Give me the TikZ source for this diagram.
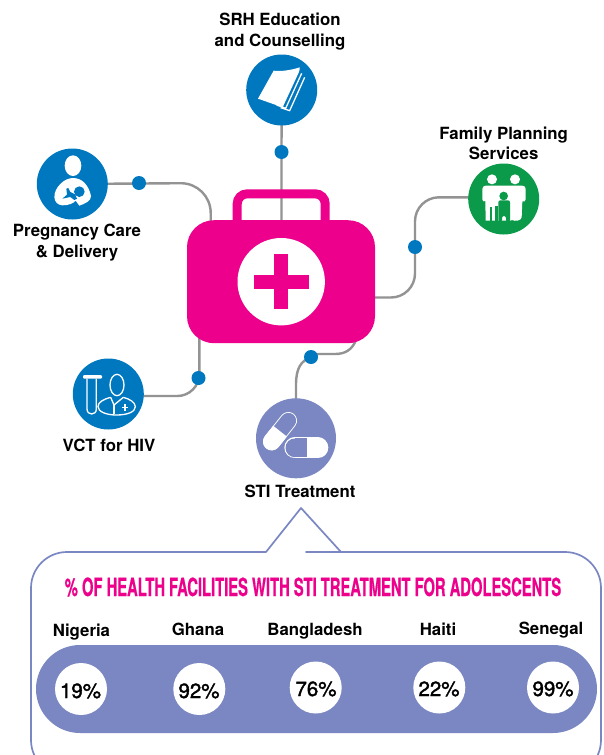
\documentclass[tikz,border=0pt]{standalone}
\usepackage{fontspec}
\setmainfont{TeX Gyre Heros}
\newfontfamily\condfont[FakeStretch=0.59,FakeBold=0.6]{TeX Gyre Heros}
\newfontfamily\semifont[FakeBold=1.8]{TeX Gyre Heros}
\definecolor{kitblue}{HTML}{0078BF}
\definecolor{kitpink}{HTML}{EC008C}
\definecolor{kitgreen}{HTML}{0A9A4A}
\definecolor{kitperi}{HTML}{7B87C2}
\definecolor{kitgray}{HTML}{939393}
\pgfdeclarelayer{bg}
\pgfsetlayers{bg,main}
\tikzset{
  iconnode/.style={circle,fill=#1,minimum size=71pt,inner sep=0},
  wiredot/.style={circle,fill=kitblue,minimum size=14pt,inner sep=0},
  wire/.style={draw=kitgray,line width=2.4pt},
  lab/.style={font=\bfseries\fontsize{16.8}{18}\selectfont,text=black,anchor=base,inner sep=0},
  pct/.style={font=\semifont\fontsize{20.5}{24}\selectfont,text=black,anchor=base,inner sep=0},
  pctdisc/.style={circle,fill=white,minimum size=52pt,inner sep=0},
  zoomed/.style={x=0.33333pt,y=-0.33333pt},
}
\begin{document}
\begin{tikzpicture}[x=1pt,y=-1pt]
\useasboundingbox (0,0) rectangle (604,755);
\begin{pgfonlayer}{bg}
\fill[white] (0,0) rectangle (604,755);
\end{pgfonlayer}
\clip (0,0) rectangle (604,755);

% main nodes
\node[rectangle,fill=kitpink,rounded corners=27pt,minimum width=188pt,minimum height=123pt,inner sep=0] (case) at (281,281.7) {};
\node[iconnode=kitblue] (srh) at (281.7,90) {};
\node[iconnode=kitblue] (preg) at (72.3,184) {};
\node[iconnode=kitblue] (vct) at (108.3,394) {};
\node[iconnode=kitgreen] (fam) at (503.7,199) {};
\node[iconnode=kitperi,minimum size=80pt] (sti) at (296,438.3) {};
\node[wiredot] (srhdot) at (281.5,152) {};
\node[wiredot] (pregdot) at (139,183) {};
\node[wiredot] (vctdot) at (198.5,378) {};
\node[wiredot] (famdot) at (415,247) {};
\node[wiredot] (stidot) at (311,357) {};
\coordinate (srhend) at (281.5,225);
\coordinate (pregcorner) at (210.7,183);
\coordinate (pregend) at (210.7,225);
\coordinate (vctcorner) at (199.3,396);
\coordinate (vctend) at (199.3,335);
\coordinate (famcorner) at (415,197.3);
\coordinate (famcorner2) at (415,297.5);
\coordinate (famend) at (370,297.5);
\coordinate (stiend) at (356,340);

% connectors behind everything
\begin{pgfonlayer}{bg}
\draw[wire] (srh.center) -- (srhdot.center) -- (srhend);
\draw[wire,rounded corners=30pt] (preg.center) -- (pregcorner) -- (pregend);
\draw[wire,rounded corners=22pt] (vct.center |- vctcorner) -- (vctcorner) -- (vctend);
\draw[wire,rounded corners=24pt] (fam.center |- famcorner) -- (famcorner) -- (famcorner2) -- (famend);
\draw[wire] (sti.center) -- (296,385) .. controls (296,368) and (301,361) .. (stidot.center);
\draw[wire] (stidot.center) -- (318,354) -- (335,354) .. controls (345,354) and (352,350) .. (stiend);
\end{pgfonlayer}

% medical kit
\draw[kitpink,line width=9pt,rounded corners=10pt] (237.2,224) -- (237.2,193.8) -- (325.2,193.8) -- (325.2,224);
\node[circle,fill=white,minimum size=87.4pt,inner sep=0] (kitdisc) at (281.2,281.7) {};
\fill[kitpink] (274.2,254) rectangle (288.4,309);
\fill[kitpink] (254,275) rectangle (309,289);

% book icon
\begin{scope}[shift={(250,60)},zoomed]
\fill[white] (71,32) .. controls (95,35) and (125,30) .. (149,22) .. controls (150,28) and (148,32) .. (146,38) -- (98,142) -- (24,116) -- cycle;
\draw[white,line width=1.3pt] (155,40) -- (107,145) -- (80,135);
\draw[white,line width=1.3pt] (164,52) -- (119,152) -- (92,143);
\end{scope}

% mother and child icon
\begin{scope}[shift={(45,150)},zoomed]
\fill[white] (84,47) ellipse [x radius=25,y radius=31];
\fill[white] (84,84) .. controls (115,84) and (132,110) .. (138,138) .. controls (140,152) and (118,162) .. (103,167) -- (92,152) .. controls (85,160) and (72,166) .. (52,166) .. controls (22,164) and (20,125) .. (48,100) .. controls (58,90) and (72,84) .. (84,84) -- cycle;
\fill[kitblue] (103,125) circle [radius=16];
\fill[kitblue] (64,116) -- (70,114) -- (76,126) -- (90,133) -- (96,146) -- (88,150) -- (76,141) -- (52,146) -- (66,134) -- cycle;
\end{scope}

% test tube and clinician icon
\begin{scope}[shift={(78,365)},zoomed]
\fill[white,rounded corners=1pt] (15,30) rectangle (72,41);
\draw[white,line width=1.3pt] (27,41) -- (27,132) .. controls (27,152) and (55,152) .. (55,132) -- (55,41);
\draw[white,line width=1.3pt] (117,60) ellipse [x radius=21,y radius=32];
\draw[white,line width=1.3pt] (98,97) .. controls (75,103) and (60,112) .. (60,125) .. controls (60,140) and (85,150) .. (115,150) .. controls (150,150) and (172,140) .. (172,125) .. controls (172,112) and (155,102) .. (136,97);
\draw[white,line width=1.3pt] (98,97) -- (108,120) -- (136,97);
\draw[white,line width=1.3pt] (108,120) -- (108,148);
\fill[white] (132,125) rectangle (150,130);
\fill[white] (138.5,118) rectangle (143.5,137);
\end{scope}

% family icon
\begin{scope}[shift={(400,120)},zoomed]
\fill[white] (276,178) circle [radius=15];
\fill[white] (345,178) circle [radius=15];
\fill[white] (247,207) .. controls (247,200) and (252,197) .. (258,197) -- (366,197) .. controls (373,197) and (377,200) .. (377,207) -- (377,238) .. controls (377,244) and (372,246) .. (367,244) -- (365,292) .. controls (364,302) and (345,305) .. (336,300) -- (330,302) -- (257,302) -- (256,243) .. controls (252,246) and (247,244) .. (247,238) -- cycle;
\fill[kitgreen] (270,262) rectangle (277,306);
\fill[kitgreen] (286,258) -- (293,258) -- (293,306) -- (286,306) -- cycle;
\fill[kitgreen,rounded corners=2pt] (295,241) -- (330,241) -- (330,306) -- (318,306) -- (318,288) -- (306,288) -- (306,306) -- (295,306) -- cycle;
\fill[kitgreen] (311,228) circle [radius=13];
\end{scope}

% capsule icons
\begin{scope}[shift={(250,400)},zoomed]
\draw[white,line width=17.4pt,line cap=round] (65,125) -- (115,62);
\draw[kitperi,line width=15.6pt,line cap=round] (65,125) -- (115,62);
\fill[white] (65,125) circle [radius=26];
\draw[white,line width=17.4pt] (65,125) -- (90,93.5);
\draw[kitperi,line width=24pt,line cap=round] (134.5,143.5) -- (203.5,143.5);
\draw[white,line width=21pt,line cap=round] (134.5,143.5) -- (203.5,143.5);
\fill[kitperi] (134.5,143.5) circle [radius=28];
\draw[kitperi,line width=18.8pt] (134.5,143.5) -- (170,143.5);
\end{scope}

% labels
\node[lab] (t1a) at (280,25) {SRH Education};
\node[lab] (t1b) at (280,46) {and Counselling};
\node[lab] (t2a) at (503.7,139) {Family Planning};
\node[lab] (t2b) at (503.7,159) {Services};
\node[lab] (t3a) at (77,236) {Pregnancy Care};
\node[lab] (t3b) at (77,257) {\& Delivery};
\node[lab] (t4) at (109,451) {VCT for HIV};
\node[lab] (t5) at (300,497) {STI Treatment};

% callout
\draw[kitperi,line width=1.7pt,line join=round]
  (301,508) -- (266,552) -- (265,552)
  [rounded corners=36pt] -- (31,552) -- (31,776) -- (601,776) -- (601,552) -- (342,552)
  [sharp corners] -- (341,552) -- cycle;
\node[anchor=base,inner sep=0,text=kitpink,font=\condfont\bfseries\fontsize{25}{28}\selectfont] (title) at (313,596) {\% OF HEALTH FACILITIES WITH STI TREATMENT FOR ADOLESCENTS};
\node[rectangle,fill=kitperi,rounded corners=44pt,minimum width=561pt,minimum height=88pt,inner sep=0] (band) at (316.5,689) {};
\node[lab] (c1) at (81.5,636) {Nigeria};
\node[lab] (c2) at (198,635) {Ghana};
\node[lab] (c3) at (315,635) {Bangladesh};
\node[lab] (c4) at (438,635) {Haiti};
\node[lab] (c5) at (551,634) {Senegal};
\node[pctdisc] (d1) at (81,689) {};
\node[pctdisc] (d2) at (199.3,689) {};
\node[pctdisc] (d3) at (315.7,687.5) {};
\node[pctdisc] (d4) at (439.3,687.5) {};
\node[pctdisc] (d5) at (553,687.5) {};
\node[pct] (p1) at (80.5,698) {19\%};
\node[pct] (p2) at (199,698) {92\%};
\node[pct] (p3) at (316,696) {76\%};
\node[pct] (p4) at (439,696) {22\%};
\node[pct] (p5) at (553,696) {99\%};
\end{tikzpicture}
\end{document}
